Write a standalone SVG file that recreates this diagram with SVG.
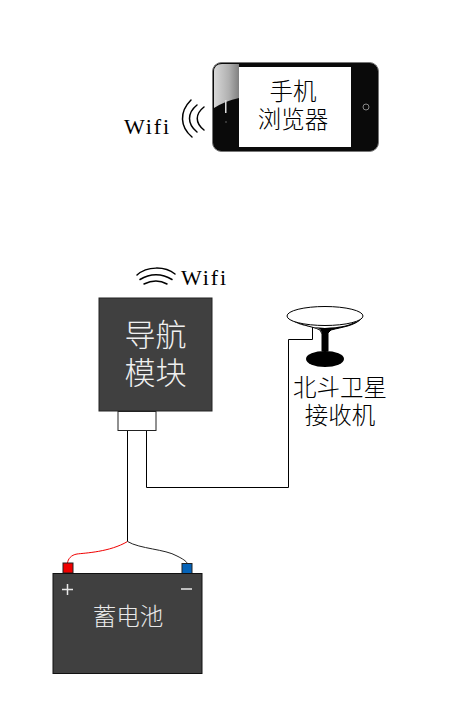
<svg xmlns="http://www.w3.org/2000/svg" width="475" height="726" viewBox="0 0 475 726">
<style>
.cjk{font-family:"Noto Sans CJK SC","Noto Sans",sans-serif;font-weight:300;text-anchor:middle}
.lat{font-family:"Liberation Serif",serif;font-size:22px}
.wire{fill:none;stroke:#000;stroke-width:1}
.arc{fill:none;stroke:#000;stroke-width:1.500;stroke-linecap:round}
</style>
<defs>
<linearGradient id="gloss" x1="0" y1="0" x2="1" y2="0">
<stop offset="0" stop-color="#d8d8d8"/><stop offset="0.6" stop-color="#b0b0b0"/><stop offset="1" stop-color="#808080"/>
</linearGradient>
</defs>
<g id="connectors">
<path class="wire" d="M127.500 430V541.500"/>
<path class="wire" d="M146.500 430V487.500H288.500V339.500H312.500V327"/>
<path fill="none" stroke="#f00000" stroke-width="1" d="M127.500 541.500C110 552 85 553 77 554C71 555 68 559 67.500 563"/>
<path fill="none" stroke="#222" stroke-width="1" d="M127.500 541.500C140 549 165 549 177 556C183 559 186 561 187 563"/>
</g>
<g id="phone">
<rect x="212.500" y="62.500" width="166" height="89" rx="9" fill="#0a0a0a" stroke="#777" stroke-width="1"/>
<path d="M214 108V72Q214 64 222 64H239V98Q225 101 214 108Z" fill="url(#gloss)"/>
<rect x="239" y="67" width="112" height="80" fill="#fff"/>
<rect x="225" y="100" width="1.500" height="13" fill="#ddd"/>
<circle cx="226" cy="122" r="1" fill="#444"/>
<circle cx="366" cy="107" r="3" fill="none" stroke="#888" stroke-width="1"/>
<text class="cjk" font-size="23.500"><tspan x="293" y="100">手机</tspan><tspan x="293" y="128">浏览器</tspan></text>
</g>
<g id="phone-wifi">
<text class="lat" x="124" y="134" textLength="45">Wifi</text>
<path class="arc" d="M191 100C179 112 180 127 192 137"/>
<path class="arc" d="M197 105C187 113 187 124 197 132"/>
<path class="arc" d="M204 107C195 114 195 123 204 130"/>
</g>
<g id="nav-module">
<rect x="99" y="298" width="113" height="113" fill="#404040" stroke="#222" stroke-width="1"/>
<text class="cjk" font-size="31" fill="#f0f0f0"><tspan x="155.500" y="346">导航</tspan><tspan x="155.500" y="384">模块</tspan></text>
</g>
<g id="connector-block">
<rect x="118" y="411.500" width="38" height="19" fill="#fff" stroke="#222" stroke-width="1"/>
</g>
<g id="module-wifi">
<path class="arc" d="M137 275C147 266 165 266 175 274"/>
<path class="arc" d="M140 279.500C150 273 162 273 172 279.500"/>
<path class="arc" d="M144 284C152 280 160 280 167 284"/>
<text class="lat" x="181" y="285" textLength="45">Wifi</text>
</g>
<g id="receiver">
<path d="M288 318C298 326 312 326 320 329L322 333V351H328V333L331 330C342 327 355 326 362 318C350 326 340 327 325 328C310 327 298 326 288 318Z" fill="#000"/>
<path d="M288 318C298 325 312 326 320 330L322 334V351H328V333L331 330C342 327 355 326 362 318" fill="none" stroke="#000" stroke-width="1"/>
<ellipse cx="325" cy="359" rx="19" ry="8" fill="#000"/>
<ellipse cx="325" cy="316" rx="38" ry="9.500" fill="#fff" stroke="#000" stroke-width="1"/>
<text class="cjk" font-size="23.500"><tspan x="340" y="396">北斗卫星</tspan><tspan x="340" y="424">接收机</tspan></text>
</g>
<g id="battery">
<rect x="63" y="563" width="10" height="10" fill="#f00000" stroke="#222" stroke-width="1"/>
<rect x="182" y="563.500" width="10" height="10" fill="#0563b8" stroke="#222" stroke-width="1"/>
<rect x="53" y="573.500" width="149" height="100" fill="#404040" stroke="#111" stroke-width="1"/>
<path d="M62 589.500H73M67.500 584V595" stroke="#e8e8e8" stroke-width="1.500" fill="none"/>
<path d="M181 589H192" stroke="#e8e8e8" stroke-width="1.500" fill="none"/>
<text class="cjk" x="128" y="625" font-size="23.500" fill="#e8e8e8">蓄电池</text>
</g>
</svg>
